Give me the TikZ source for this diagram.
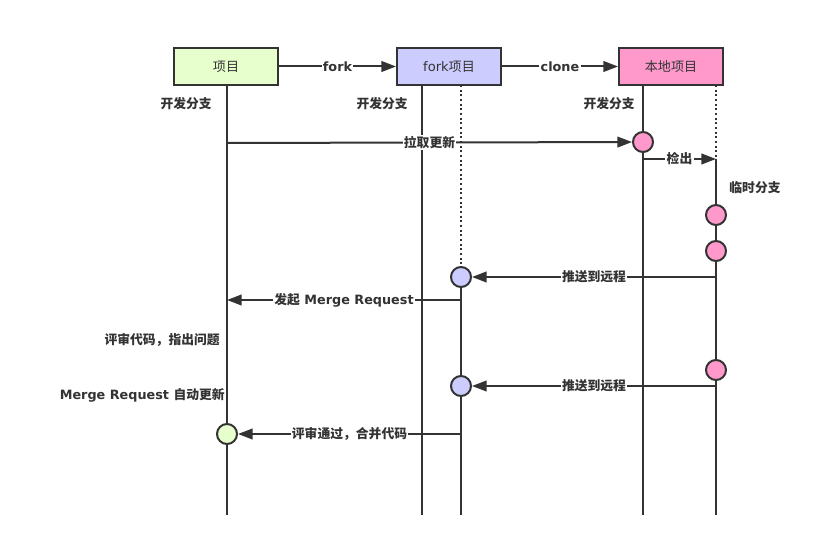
\documentclass[tikz,border=0pt]{standalone}
\usepackage{fontspec}
\setmainfont{DejaVu Sans}
\newfontfamily\cjk{Noto Sans CJK SC}
\usetikzlibrary{arrows.meta}
\definecolor{ln}{HTML}{333333}
\definecolor{gfill}{HTML}{E6FFCC}
\definecolor{bfill}{HTML}{CCCCFF}
\definecolor{pfill}{HTML}{FF99CC}
\tikzset{
  box/.style={draw=ln, line width=1.5pt, minimum width=78pt, minimum height=27.75pt, inner sep=0pt, text=ln, font=\fontsize{9.8}{11}\selectfont},
  dotnode/.style={circle, draw=ln, line width=1.5pt, minimum size=15pt, inner sep=0pt},
  lab/.style={fill=white, inner sep=1pt, text=ln, font=\bfseries\fontsize{9.6}{11}\selectfont},
  txt/.style={inner sep=0pt, text=ln, font=\bfseries\fontsize{9.6}{11}\selectfont},
  arr/.style={draw=ln, line width=1.5pt, -{Triangle[length=11pt,width=8pt]}},
  lifeline/.style={draw=ln, line width=1.5pt},
  dotline/.style={draw=ln, line width=1.5pt, dotted}
}
\begin{document}
\begin{tikzpicture}[x=0.75pt,y=-0.75pt]
\useasboundingbox (0,0) rectangle (819,549);
% boxes
\node[box, fill=gfill] (p1) at (226,66.5) {\cjk 项目};
\node[box, fill=bfill] (p2) at (449,66.5) {fork{\cjk 项目}};
\node[box, fill=pfill] (p3) at (671,66.5) {\cjk 本地项目};
% lifeline coordinates
\coordinate (a0) at (227,85);   \coordinate (a1) at (227,515);
\coordinate (b0) at (422,85);   \coordinate (b1) at (422,515);
\coordinate (c0) at (461,85);   \coordinate (c1) at (461,515);
\coordinate (d0) at (643,85);   \coordinate (d1) at (643,515);
\coordinate (e0) at (716,85);   \coordinate (e1) at (716,515);
\coordinate (eco) at (716,159);
\coordinate (dco) at (643,159);
\coordinate (apull) at (227,143);
\coordinate (epush1) at (716,277);
\coordinate (cmr) at (461,300);
\coordinate (amr) at (227,300);
\coordinate (epush2) at (716,386);
\coordinate (cmerge) at (461,434);
% circles (positions)
\path (643,142) coordinate (k1) (716,215) coordinate (k2) (716,251) coordinate (k3)
      (461,277) coordinate (k4) (716,370) coordinate (k5) (461,386) coordinate (k6)
      (227,434) coordinate (k7);
% lifelines
\draw[lifeline] (a0) -- (a1);
\draw[lifeline] (b0) -- (b1);
\draw[dotline] (c0) -- (k4);
\draw[lifeline] (k4) -- (c1);
\draw[lifeline] (d0) -- (d1);
\draw[dotline] (e0) -- (eco);
\draw[lifeline] (eco) -- (e1);
% circles
\node[dotnode, fill=pfill] (n1) at (k1) {};
\node[dotnode, fill=pfill] (n2) at (k2) {};
\node[dotnode, fill=pfill] (n3) at (k3) {};
\node[dotnode, fill=bfill] (n4) at (k4) {};
\node[dotnode, fill=pfill] (n5) at (k5) {};
\node[dotnode, fill=bfill] (n6) at (k6) {};
\node[dotnode, fill=gfill] (n7) at (k7) {};
% top arrows
\draw[arr] (p1) -- node[lab] {fork} (p2);
\draw[arr] (p2) -- node[lab] {clone} (p3);
% messages
\draw[arr] (apull) -- node[lab] {\cjk 拉取更新} (n1);
\draw[arr] (dco) -- node[lab] {\cjk 检出} (eco);
\draw[arr] (epush1) -- node[lab] {\cjk 推送到远程} (n4);
\draw[arr] (cmr) -- node[lab] {{\cjk 发起} Merge Request} (amr);
\draw[arr] (epush2) -- node[lab] {\cjk 推送到远程} (n6);
\draw[arr] (cmerge) -- node[lab] {\cjk 评审通过，合并代码} (n7);
% texts
\node[txt, anchor=east] (t1) at (212,104) {\cjk 开发分支};
\node[txt, anchor=east] (t2) at (408,104) {\cjk 开发分支};
\node[txt, anchor=east] (t3) at (635,104) {\cjk 开发分支};
\node[txt] (t4) at (755,188) {\cjk 临时分支};
\node[txt, anchor=east] (t5) at (220,340) {\cjk 评审代码，指出问题};
\node[txt, anchor=east] (t6) at (225,395) {Merge Request {\cjk 自动更新}};
\end{tikzpicture}
\end{document}
